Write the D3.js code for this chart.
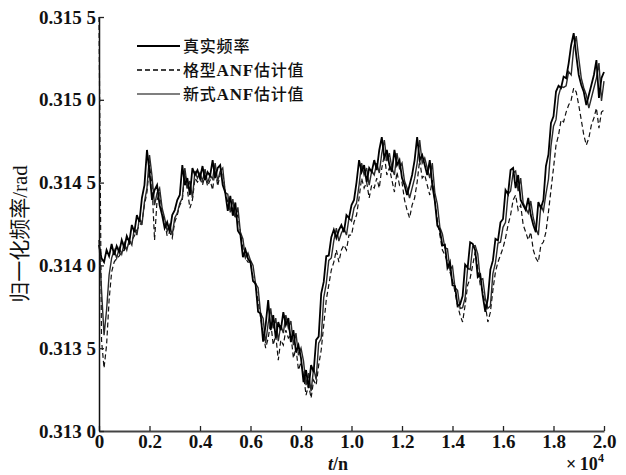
<!DOCTYPE html>
<html>
<head>
<meta charset="utf-8">
<script src="https://cdn.jsdelivr.net/npm/d3@7"></script>
<style>
  html, body { margin: 0; padding: 0; background: #fff; }
  svg { display: block; }
  .tick text { font-family: "Liberation Serif", "DejaVu Serif", serif; font-weight: bold; font-size: 19px; fill: #111; }
</style>
</head>
<body>
<svg id="chart" width="626" height="475"></svg>
<script>
// Sample index axis (units of 10^4 samples), one point every 0.01e4 samples
const sampleStep = 0.01;
const sampleCount = 201;

// 真实频率 (true frequency), rad
const trueFreq = [
0.314123,0.314044,0.314020,0.314093,0.314056,0.314129,0.314062,0.314117,0.314081,0.314153,
0.314105,0.314177,0.314141,0.314244,0.314201,0.314304,0.314262,0.314407,0.314485,0.314697,
0.314564,0.314395,0.314455,0.314485,0.314364,0.314304,0.314225,0.314262,0.314201,0.314304,
0.314334,0.314395,0.314425,0.314606,0.314485,0.314527,0.314425,0.314588,0.314546,0.314576,
0.314527,0.314600,0.314515,0.314564,0.314540,0.314636,0.314527,0.314588,0.314606,0.314485,
0.314440,0.314330,0.314420,0.314300,0.314380,0.314210,0.314185,0.314050,0.314095,0.314040,
0.314020,0.313905,0.313890,0.313720,0.313710,0.313540,0.313640,0.313791,0.313609,0.313700,
0.313561,0.313658,0.313609,0.313718,0.313640,0.313682,0.313537,0.313609,0.313477,0.313519,
0.313440,0.313295,0.313368,0.313259,0.313398,0.313356,0.313550,0.313570,0.313830,0.313900,
0.314055,0.314060,0.314170,0.314215,0.314165,0.314213,0.314244,0.314201,0.314304,0.314286,
0.314364,0.314395,0.314503,0.314636,0.314564,0.314606,0.314503,0.314588,0.314564,0.314636,
0.314576,0.314697,0.314775,0.314648,0.314697,0.314606,0.314564,0.314697,0.314606,0.314636,
0.314527,0.314485,0.314425,0.314485,0.314546,0.314636,0.314775,0.314636,0.314666,0.314606,
0.314546,0.314636,0.314485,0.314390,0.314240,0.314215,0.314120,0.314125,0.313985,0.314020,
0.313880,0.313875,0.313755,0.313765,0.313815,0.314005,0.313985,0.314140,0.314130,0.314090,
0.313930,0.313945,0.313815,0.313720,0.313800,0.313975,0.314030,0.314160,0.314150,0.314260,
0.314280,0.314455,0.314430,0.314576,0.314588,0.314467,0.314546,0.314395,0.314364,0.314334,
0.314407,0.314304,0.314244,0.314201,0.314383,0.314346,0.314395,0.314600,0.314670,0.314860,
0.314900,0.315050,0.315085,0.315071,0.315140,0.315130,0.315220,0.315331,0.315403,0.315270,
0.315150,0.315089,0.315047,0.314968,0.315029,0.315089,0.315150,0.315240,0.315011,0.315131,
0.315168
];

// 格型ANF估计值 (lattice ANF estimate), rad
const latticeANF = [
0.315500,0.313549,0.313380,0.313519,0.313791,0.313960,0.314020,0.314044,0.314056,0.314081,
0.314093,0.314117,0.314129,0.314153,0.314177,0.314213,0.314238,0.314262,0.314364,0.314443,
0.314606,0.314485,0.314153,0.314395,0.314443,0.314322,0.314262,0.314177,0.314201,0.314165,
0.314262,0.314304,0.314364,0.314395,0.314564,0.314455,0.314346,0.314395,0.314527,0.314503,
0.314527,0.314485,0.314546,0.314479,0.314515,0.314455,0.314588,0.314479,0.314552,0.314564,
0.314443,0.314383,0.314322,0.314346,0.314286,0.314304,0.314201,0.314105,0.314044,0.314020,
0.314020,0.313923,0.313881,0.313791,0.313682,0.313591,0.313501,0.313561,0.313658,0.313519,
0.313579,0.313428,0.313549,0.313519,0.313609,0.313561,0.313579,0.313440,0.313501,0.313368,
0.313416,0.313338,0.313217,0.313277,0.313199,0.313307,0.313277,0.313398,0.313489,0.313640,
0.313791,0.313881,0.313972,0.314020,0.314093,0.314020,0.314093,0.314123,0.314093,0.314183,
0.314183,0.314262,0.314304,0.314407,0.314527,0.314467,0.314503,0.314407,0.314485,0.314467,
0.314527,0.314467,0.314588,0.314666,0.314546,0.314588,0.314515,0.314443,0.314564,0.314485,
0.314503,0.314395,0.314334,0.314286,0.314364,0.314407,0.314503,0.314636,0.314527,0.314546,
0.314485,0.314425,0.314515,0.314395,0.314274,0.314183,0.314093,0.314062,0.314020,0.313960,
0.313911,0.313839,0.313760,0.313700,0.313658,0.313760,0.313881,0.313923,0.314002,0.314081,
0.313984,0.313881,0.313839,0.313760,0.313658,0.313718,0.313851,0.313960,0.314020,0.314062,
0.314105,0.314165,0.314244,0.314304,0.314395,0.314425,0.314334,0.314364,0.314244,0.314201,
0.314153,0.314201,0.314093,0.314044,0.314020,0.314123,0.314141,0.314201,0.314322,0.314455,
0.314588,0.314727,0.314787,0.314878,0.314866,0.314926,0.314968,0.314999,0.315071,0.315047,
0.314968,0.314878,0.314787,0.314727,0.314769,0.314848,0.314890,0.314950,0.314829,0.314926,
0.314938
];

// 新式ANF估计值 (new ANF estimate), rad
const newANF = [
0.314153,0.313851,0.313579,0.313730,0.313942,0.314044,0.314093,0.314044,0.314105,0.314068,
0.314135,0.314093,0.314153,0.314123,0.314225,0.314183,0.314286,0.314244,0.314383,0.314467,
0.314666,0.314540,0.314364,0.314437,0.314467,0.314346,0.314286,0.314207,0.314244,0.314183,
0.314286,0.314316,0.314376,0.314407,0.314588,0.314467,0.314509,0.314407,0.314570,0.314527,
0.314558,0.314509,0.314582,0.314497,0.314546,0.314521,0.314618,0.314509,0.314570,0.314588,
0.314440,0.314430,0.314320,0.314400,0.314290,0.314350,0.314200,0.314160,0.314045,0.314075,
0.314030,0.314000,0.313890,0.313865,0.313710,0.313680,0.313530,0.313650,0.313740,0.313620,
0.313682,0.313543,0.313640,0.313591,0.313700,0.313621,0.313664,0.313519,0.313591,0.313458,
0.313501,0.313422,0.313277,0.313350,0.313241,0.313380,0.313310,0.313530,0.313560,0.313805,
0.313890,0.314030,0.314045,0.314150,0.314225,0.314147,0.314195,0.314225,0.314183,0.314286,
0.314268,0.314346,0.314376,0.314485,0.314618,0.314546,0.314588,0.314485,0.314570,0.314546,
0.314618,0.314558,0.314678,0.314757,0.314630,0.314678,0.314588,0.314546,0.314678,0.314588,
0.314618,0.314509,0.314467,0.314407,0.314467,0.314527,0.314618,0.314757,0.314618,0.314648,
0.314588,0.314527,0.314618,0.314440,0.314370,0.314230,0.314190,0.314105,0.314100,0.313975,
0.313995,0.313865,0.313850,0.313740,0.313745,0.313805,0.313985,0.313975,0.314115,0.314120,
0.314070,0.313915,0.313920,0.313800,0.313740,0.313755,0.313950,0.314015,0.314135,0.314140,
0.314230,0.314260,0.314430,0.314449,0.314558,0.314570,0.314449,0.314527,0.314376,0.314346,
0.314316,0.314389,0.314286,0.314225,0.314183,0.314364,0.314328,0.314430,0.314520,0.314720,
0.314840,0.314880,0.315025,0.315080,0.315075,0.315085,0.315170,0.315150,0.315313,0.315385,
0.315252,0.315131,0.315071,0.315029,0.314950,0.315011,0.315071,0.315131,0.315222,0.314993,
0.315113
];

const xTicks = [0, 0.2, 0.4, 0.6, 0.8, 1.0, 1.2, 1.4, 1.6, 1.8, 2.0];
const yTicks = [0.3130, 0.3135, 0.3140, 0.3145, 0.3150, 0.3155];
const legendLabels = ["真实频率", "格型ANF估计值", "新式ANF估计值"];

const svg = d3.select("#chart");
const plotLeft = 99, plotRight = 604, plotTop = 17, plotBottom = 431;

const x = d3.scaleLinear().domain([0, 2]).range([plotLeft, plotRight]);
const y = d3.scaleLinear().domain([0.313, 0.3155]).range([plotBottom, plotTop]);

const line = (vals) => d3.line()
  .x((d, i) => x(i * sampleStep))
  .y(d => y(d))(vals);

// series
svg.append("path").attr("d", line(latticeANF))
  .attr("fill", "none").attr("stroke", "#111").attr("stroke-width", 1.2)
  .attr("stroke-dasharray", "5,3");
svg.append("path").attr("d", line(newANF))
  .attr("fill", "none").attr("stroke", "#2a2a2a").attr("stroke-width", 1.4);
svg.append("path").attr("d", line(trueFreq))
  .attr("fill", "none").attr("stroke", "#000").attr("stroke-width", 1.8);

// axes
const xAxis = d3.axisBottom(x).tickValues(xTicks)
  .tickSizeInner(-5).tickSizeOuter(0).tickPadding(4)
  .tickFormat(d => d === 0 ? "0" : d.toFixed(1));
const gx = svg.append("g").attr("transform", `translate(0,${plotBottom})`).call(xAxis);
gx.select(".domain").attr("stroke", "#444").attr("stroke-width", 2);
gx.selectAll(".tick line").attr("stroke", "#222").attr("stroke-width", 1.3);

const yAxis = d3.axisLeft(y).tickValues(yTicks)
  .tickSizeInner(-5).tickSizeOuter(0).tickPadding(3)
  .tickFormat(d => { const s = d.toFixed(4); return s.slice(0, 5) + " " + s.slice(5); });
const gy = svg.append("g").attr("transform", `translate(${plotLeft},0)`).call(yAxis);
gy.select(".domain").attr("stroke", "#111").attr("stroke-width", 1.5);
gy.selectAll(".tick line").attr("stroke", "#222").attr("stroke-width", 1.3);
gy.selectAll(".tick text").style("white-space", "pre").attr("xml:space", "preserve");

// legend
const legendRows = [46, 70, 94];
const legendStyles = [
  { w: 1.8, dash: null },
  { w: 1.3, dash: "5,3" },
  { w: 1.1, dash: null }
];
const lg = svg.append("g");
legendLabels.forEach((lab, i) => {
  lg.append("line").attr("x1", 137).attr("x2", 180)
    .attr("y1", legendRows[i]).attr("y2", legendRows[i])
    .attr("stroke", "#000").attr("stroke-width", legendStyles[i].w)
    .attr("stroke-dasharray", legendStyles[i].dash);
  const t = lg.append("text").attr("x", 183).attr("y", legendRows[i] + 6)
    .attr("font-size", 16).attr("letter-spacing", 0.8).attr("fill", "#111");
  const parts = lab.split(/(ANF)/);
  parts.forEach(p => {
    if (!p) return;
    t.append("tspan").text(p)
      .attr("font-family", p === "ANF" ? "Liberation Serif" : "Noto Sans CJK SC")
      .attr("font-size", p === "ANF" ? 17 : 16)
      .attr("font-weight", p === "ANF" ? "bold" : "500");
  });
});

// y-axis title
const yt = svg.append("text")
  .attr("transform", "translate(27,234) rotate(-90)")
  .attr("text-anchor", "middle").attr("font-size", 21).attr("fill", "#111");
yt.append("tspan").attr("font-family", "Noto Sans CJK SC").text("归一化频率");
yt.append("tspan").attr("font-family", "Liberation Serif").text("/rad");

// x-axis title
const xt = svg.append("text").attr("x", 338).attr("y", 470)
  .attr("text-anchor", "middle").attr("font-size", 18).attr("fill", "#111")
  .attr("font-family", "Liberation Serif").attr("font-weight", "bold");
xt.append("tspan").attr("font-style", "italic").text("t");
xt.append("tspan").text("/n");

// multiplier
const mt = svg.append("text").attr("x", 566).attr("y", 470)
  .attr("font-size", 18).attr("fill", "#111")
  .attr("font-family", "Liberation Serif").attr("font-weight", "bold");
mt.append("tspan").text("\u00d7\u200910");
mt.append("tspan").attr("font-size", 12).attr("dy", -8).text("4");
</script>
</body>
</html>
